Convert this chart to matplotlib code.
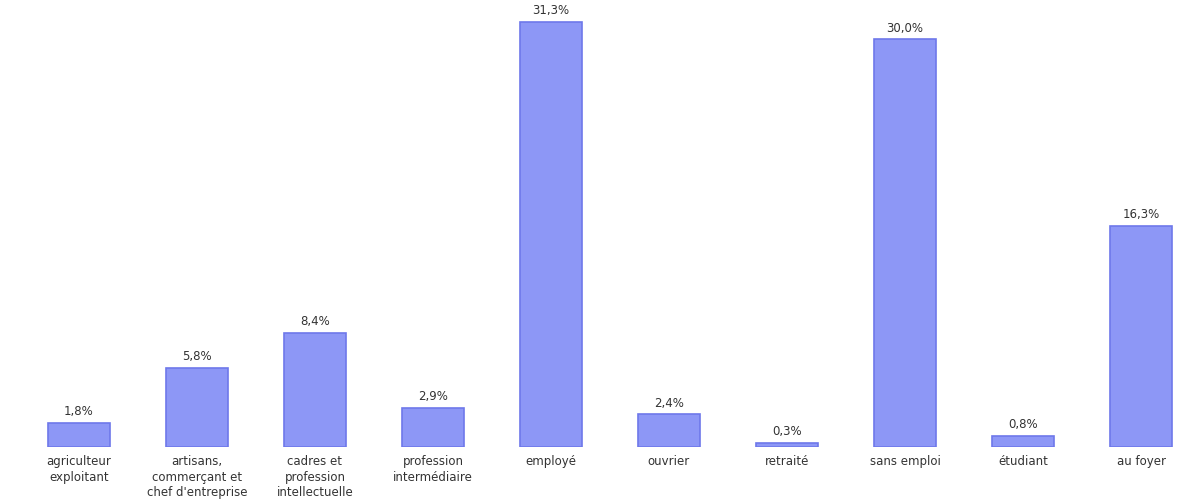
import matplotlib
matplotlib.use("Agg")
from matplotlib import pyplot as plt
import numpy as np

categories = ["agriculteur\nexploitant", "artisans,\ncommerçant et\nchef d'entreprise",
              "cadres et\nprofession\nintellectuelle", "profession\nintermédiaire",
              "employé", "ouvrier", "retraité", "sans emploi", "étudiant", "au foyer"]
values = [1.8, 5.8, 8.4, 2.9, 31.3, 2.4, 0.3, 30.0, 0.8, 16.3]

fig = plt.figure(figsize=(11.77, 4.99), dpi=100)
ax = fig.add_axes([0, 52 / 499, 1, 447 / 499])

x = np.arange(len(values))
ax.bar(x, values, width=0.53, color="#8d97f6", edgecolor="#6e78ea", linewidth=1.2)

for xi, v in zip(x, values):
    ax.text(xi, v + 0.35, f"{v:.1f}%".replace(".", ","), ha="center", va="bottom",
            fontsize=8.5, color="#333333")

ax.set_xlim(-0.669, 9.305)
ax.set_ylim(0, 32.9)
ax.set_xticks(x)
ax.set_xticklabels(categories, fontsize=8.5, color="#333333", linespacing=1.25)
ax.tick_params(axis="x", length=0, pad=6)
ax.set_yticks([])
for s in ax.spines.values():
    s.set_visible(False)

fig.savefig("out.png", dpi=100)
